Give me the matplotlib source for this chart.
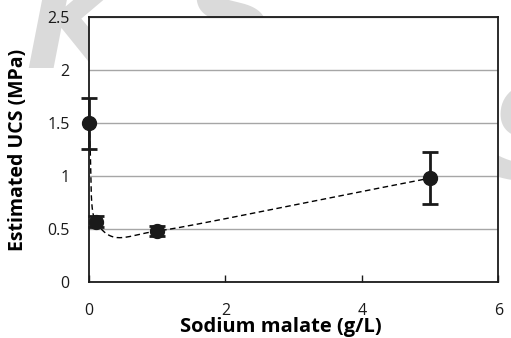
import numpy as np
import matplotlib
matplotlib.use('Agg')
import matplotlib.pyplot as plt

plt.rcParams['font.family'] = ['Open Sans', 'DejaVu Sans']

malate = [0, 0.1, 1, 5]          # g/L
ucs = [1.50, 0.57, 0.48, 0.98]   # MPa
ucs_err = [0.24, 0.05, 0.05, 0.245]


def smooth_curve(ax, xs, ys, k=0.5, n=60):
    # smoothed line through the points, built in display space with
    # cubic Bezier segments; handles follow the neighbour tangent, are sized
    # from the shorter adjacent segment and kept inside the segment's x-range
    pts = ax.transData.transform(np.column_stack([xs, ys]))
    m = len(pts)
    lens = [np.hypot(*(pts[i + 1] - pts[i])) for i in range(m - 1)]
    tang = []
    for i in range(m):
        d = pts[min(i + 1, m - 1)] - pts[max(i - 1, 0)]
        tang.append(d / np.hypot(*d))
    out = []
    for i in range(m - 1):
        p1, p2 = pts[i], pts[i + 1]
        l1 = k * min(lens[i], lens[i - 1] if i > 0 else lens[i])
        l2 = k * min(lens[i], lens[i + 1] if i + 1 < m - 1 else lens[i])
        if tang[i][0] > 0:
            l1 = min(l1, (p2[0] - p1[0]) / tang[i][0])
        if tang[i + 1][0] > 0:
            l2 = min(l2, (p2[0] - p1[0]) / tang[i + 1][0])
        c1 = p1 + tang[i] * l1
        c2 = p2 - tang[i + 1] * l2
        t = np.linspace(0, 1, n)[:, None]
        out.append((1 - t) ** 3 * p1 + 3 * (1 - t) ** 2 * t * c1
                   + 3 * (1 - t) * t ** 2 * c2 + t ** 3 * p2)
    seg = ax.transData.inverted().transform(np.vstack(out))
    return seg[:, 0], seg[:, 1]


fig = plt.figure(figsize=(5.11, 3.38), dpi=100)

# faint background lettering, mostly hidden behind the plot area
wm = dict(color='#dadada', fontsize=95, fontweight='bold', style='italic',
          family='DejaVu Sans', zorder=-1)
fig.text(0.05, 0.80, 'K', **wm)
fig.text(0.36, 0.82, 'S', **wm)
fig.text(0.955, 0.47, 'S', **wm)

ax = fig.add_axes([0.174, 0.166, 0.801, 0.783])
ax.set_facecolor('white')
ax.set_xlim(0, 6)
ax.set_ylim(0, 2.5)

ax.set_axisbelow(True)
ax.yaxis.grid(True, color='#a6a6a6', linewidth=1.0)

cx, cy = smooth_curve(ax, malate, ucs)
ax.plot(cx, cy, color='black', linestyle=(0, (4, 2.5)), linewidth=1.0, zorder=2)
ax.errorbar(malate, ucs, yerr=ucs_err, fmt='o', color='#1a1a1a', markersize=10,
            elinewidth=2, capsize=6, capthick=2, zorder=3, clip_on=False)

ax.set_xticks([0, 2, 4, 6])
ax.set_yticks([0, 0.5, 1, 1.5, 2, 2.5])
ax.set_yticklabels(['0', '0.5', '1', '1.5', '2', '2.5'])
ax.tick_params(axis='x', direction='in', length=5, width=1, labelsize=11.5, pad=15, colors='#1a1a1a')
ax.tick_params(axis='y', direction='in', length=0, labelsize=11.5, pad=14, colors='#1a1a1a')
for s in ax.spines.values():
    s.set_linewidth(1.3)
    s.set_color('#1a1a1a')

ax.set_xlabel('Sodium malate (g/L)', fontsize=14.5, fontweight='bold')
ax.xaxis.set_label_coords(0.468, -0.19)
ax.xaxis.label.set_verticalalignment('baseline')
ax.set_ylabel('Estimated UCS (MPa)', fontsize=14, fontweight='bold')
ax.yaxis.set_label_coords(-0.174, 0.5)
ax.yaxis.label.set_verticalalignment('center')

fig.savefig('out.png', dpi=100)
